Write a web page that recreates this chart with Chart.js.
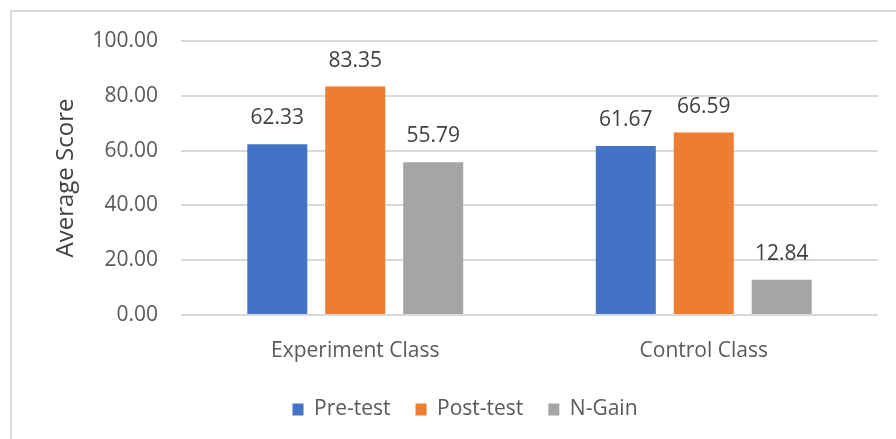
<!DOCTYPE html>
<html>
<head>
<meta charset="utf-8">
<script src="https://cdn.jsdelivr.net/npm/chart.js@4.4.1/dist/chart.umd.min.js"></script>
<style>
  html, body { margin: 0; padding: 0; background: #fff; overflow: hidden; }
  #wrap { position: relative; width: 896px; height: 439px; }
  #frame { position: absolute; left: 10px; top: 10px; width: 900px; height: 440px; border: 2px solid #d9d9d9; box-sizing: border-box; }
  #chart { position: absolute; left: 0; top: 0; }
</style>
</head>
<body>
<div id="wrap">
  <div id="frame"></div>
  <canvas id="chart" width="896" height="439"></canvas>
</div>
<script>
// chart values
const classes = ['Experiment Class', 'Control Class'];
const preTest = [62.33, 61.67];
const postTest = [83.35, 66.59];
const nGain = [55.79, 12.84];
const yTicks = [0, 20, 40, 60, 80, 100];

const FONT = "'Open Sans', 'Liberation Sans', sans-serif";

// value labels above each bar
const valueLabels = {
    id: 'valueLabels',
    afterDatasetsDraw(chart) {
        const ctx = chart.ctx;
        ctx.save();
        ctx.font = '21px ' + FONT;
        ctx.fillStyle = '#404040';
        ctx.textAlign = 'center';
        ctx.textBaseline = 'middle';
        chart.data.datasets.forEach((ds, i) => {
            chart.getDatasetMeta(i).data.forEach((bar, j) => {
                ctx.fillText(ds.data[j].toFixed(2), bar.x, bar.y - 26);
            });
        });
        ctx.restore();
    }
};

new Chart(document.getElementById('chart'), {
    type: 'bar',
    data: {
        labels: classes,
        datasets: [
            { label: 'Pre-test', data: preTest, backgroundColor: '#4472C4' },
            { label: 'Post-test', data: postTest, backgroundColor: '#ED7D31' },
            { label: 'N-Gain', data: nGain, backgroundColor: '#A5A5A5' }
        ]
    },
    options: {
        responsive: false,
        animation: false,
        categoryPercentage: 0.671,
        barPercentage: 0.77,
        layout: { padding: { left: 52, right: 18, top: 41, bottom: 9 } },
        scales: {
            x: {
                grid: { display: false },
                border: { display: false },
                ticks: { color: '#595959', font: { family: FONT, size: 21 }, padding: 15 },
                afterFit(scale) { scale.height = 59; }
            },
            y: {
                min: 0,
                max: 100,
                afterBuildTicks(scale) { scale.ticks = yTicks.map(v => ({ value: v })); },
                grid: { color: '#d9d9d9', lineWidth: 2, drawTicks: false },
                border: { display: false },
                ticks: {
                    color: '#595959',
                    font: { family: FONT, size: 21 },
                    padding: 23,
                    callback: v => Number(v).toFixed(2)
                },
                title: {
                    display: true,
                    text: 'Average Score',
                    color: '#404040',
                    font: { family: FONT, size: 24 },
                    padding: { top: 0, bottom: 0 }
                },
                afterFit(scale) { scale.width = 129; }
            }
        },
        plugins: {
            legend: {
                position: 'bottom',
                labels: {
                    color: '#595959',
                    font: { family: FONT, size: 21 },
                    boxWidth: 11,
                    boxHeight: 12,
                    padding: 25
                }
            },
            tooltip: { enabled: false }
        }
    },
    plugins: [valueLabels]
});
</script>
</body>
</html>
